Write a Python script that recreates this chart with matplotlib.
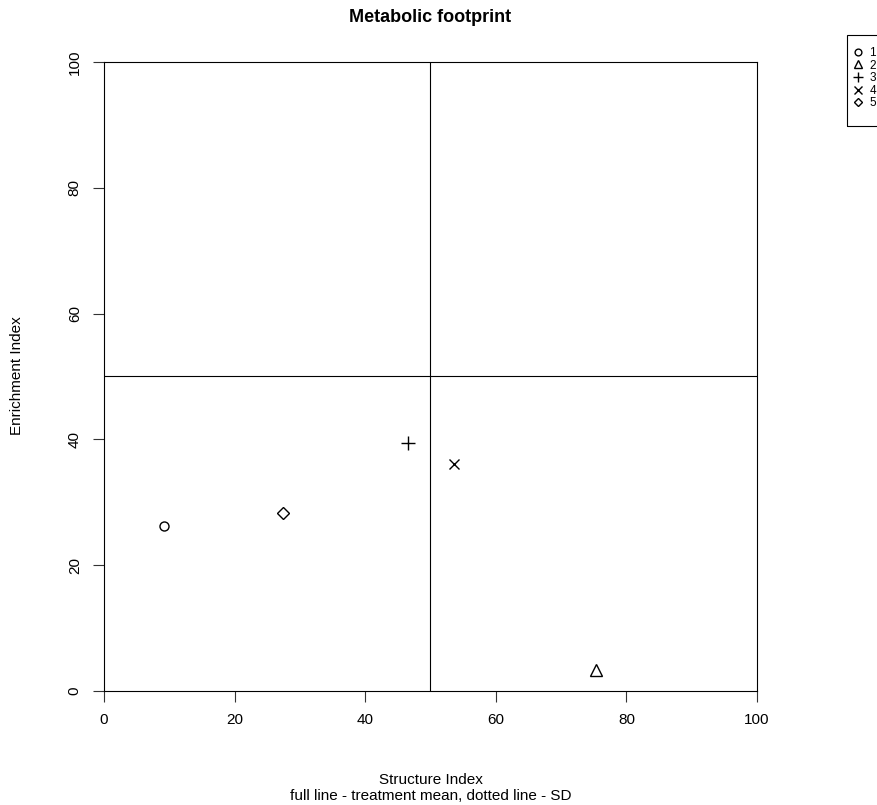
#!/usr/bin/env python3

import matplotlib
matplotlib.use("Agg")
import matplotlib.pyplot as plt
from matplotlib.patches import Rectangle

plt.rcParams['font.family'] = ['Liberation Sans', 'DejaVu Sans']

# treatment means (structure index, enrichment index)
treatments = ["1", "2", "3", "4", "5"]
si_mean = [9.2, 75.3, 46.6, 53.6, 27.4]
ei_mean = [26.2, 3.3, 39.4, 36.1, 28.3]
markers = ["o", "^", "+", "x", "D"]
msizes = [6.5, 8, 9.5, 7, 6]

W, H = 878, 805
fig = plt.figure(figsize=(W / 100, H / 100), dpi=100)
ax = fig.add_axes([104 / W, 1 - 691 / H, 653 / W, 629 / H])

# quadrant dividers
ax.axvline(50, color="black", lw=0.8)
ax.axhline(50, color="black", lw=0.8)

for lab, x, y, m, s in zip(treatments, si_mean, ei_mean, markers, msizes):
    if m in ("+", "x"):
        ax.plot(x, y, m, color="black", ms=s, mew=1.0, label=lab, ls="none")
    else:
        ax.plot(x, y, m, mfc="none", mec="black", ms=s, mew=1.0, label=lab, ls="none")

ax.set_xlim(0, 100)
ax.set_ylim(0, 100)
ax.set_xticks([0, 20, 40, 60, 80, 100])
ax.set_yticks([0, 20, 40, 60, 80, 100])
ax.tick_params(direction="out", length=8, width=0.8, labelsize=11, pad=8,
               colors="#333333", labelcolor="black")
for lbl in ax.get_yticklabels():
    lbl.set_rotation(90)
    lbl.set_va("center")
for sp in ax.spines.values():
    sp.set_linewidth(0.8)

fig.text((104 + 757) / 2 / W, 1 - 17 / H, "Metabolic footprint",
         ha="center", va="center", fontsize=13, fontweight="bold")
fig.text((104 + 757) / 2 / W, 1 - 780 / H, "Structure Index", ha="center", va="center", fontsize=11)
fig.text((104 + 757) / 2 / W, 1 - 796 / H, "full line - treatment mean, dotted line - SD",
         ha="center", va="center", fontsize=11)
fig.text(17 / W, 1 - 376 / H, "Enrichment Index", rotation=90, ha="center", va="center", fontsize=11)

# legend box sits at the right edge, drawn separately from the entries
fig.patches.append(Rectangle((847 / W, 1 - 126 / H), 60 / W, 91 / H,
                             transform=fig.transFigure, fill=False,
                             edgecolor="black", lw=0.8))
leg = fig.legend(loc="upper left", bbox_to_anchor=(854 / W, 1 - 47 / H),
                 fontsize=8.5, frameon=False,
                 handlelength=0.7, handletextpad=0.6, labelspacing=0.05,
                 borderpad=0, borderaxespad=0, markerscale=0.75)

fig.savefig("out.png", dpi=100)
